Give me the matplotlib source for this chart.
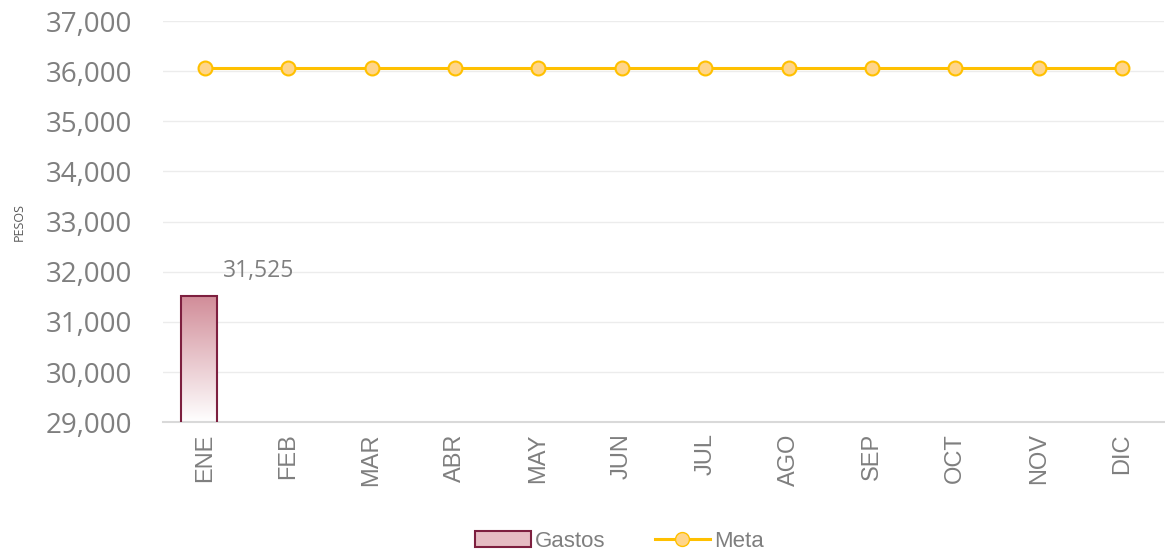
import numpy as np
import matplotlib.pyplot as plt
from matplotlib.patches import Patch
from matplotlib.lines import Line2D
from matplotlib.colors import LinearSegmentedColormap

# datos
meses = ["ENE", "FEB", "MAR", "ABR", "MAY", "JUN", "JUL", "AGO", "SEP", "OCT", "NOV", "DIC"]
gastos = [31525]
meta = [36070] * 12

gris = "#7f7f7f"
fig = plt.figure(figsize=(11.65, 5.54), dpi=100)
ax = fig.add_axes([0.14, 0.238, 0.859, 0.724])

x = np.arange(len(meses))

# barras con degradado
cmap = LinearSegmentedColormap.from_list("grad", ["#ffffff", "#d18c98"])
barras = ax.bar(x[:len(gastos)] - 0.07, gastos, width=0.44, color="none",
                edgecolor="#7d1f3f", linewidth=1.5, zorder=3)
for b in barras:
    x0, y0 = b.get_x(), 29000
    x1, y1 = x0 + b.get_width(), b.get_height()
    grad = np.linspace(0, 1, 256).reshape(-1, 1)
    im = ax.imshow(grad, cmap=cmap, origin="lower", aspect="auto",
                   extent=[x0, x1, y0, y1], zorder=2)
    im.set_clip_path(b)

for xi, v in zip(x, gastos):
    ax.annotate(f"{v:,}", (xi - 0.07, v), xytext=(43, 13), textcoords="offset points",
                ha="center", va="baseline", fontsize=16.5, color=gris, family="Open Sans")

# linea meta
ax.plot(x, meta, color="#ffc000", linewidth=2.2, marker="o", markersize=10,
        markerfacecolor="#ffd58a", markeredgecolor="#ffc000", markeredgewidth=1.5, zorder=4)

ax.set_xlim(-0.5, 11.5)
ax.set_ylim(29000, 37000)
ax.set_yticks(range(29000, 37001, 1000))
ax.set_yticklabels([f"{v:,}" for v in range(29000, 37001, 1000)], fontsize=20,
                   color=gris, family="Open Sans")
ax.set_xticks(x)
ax.set_xticklabels(meses, rotation=90, fontsize=17, color=gris, family="Liberation Sans")
ax.tick_params(axis="x", length=0, pad=8)
ax.tick_params(axis="y", length=0, pad=22)
ax.grid(axis="y", color="#ececec", linewidth=1, zorder=0)
ax.set_axisbelow(True)
for s in ["top", "right", "left"]:
    ax.spines[s].set_visible(False)
ax.spines["bottom"].set_color("#d9d9d9")
ax.spines["bottom"].set_linewidth(1.5)

ax.set_ylabel("PESOS", fontsize=9, color="#595959", family="Open Sans")
ax.yaxis.set_label_coords(-0.137, 0.5)

handles = [Patch(facecolor="#e6bcc3", edgecolor="#7d1f3f", linewidth=1.5),
           Line2D([], [], color="#ffc000", linewidth=2.2, marker="o", markersize=10,
                  markerfacecolor="#ffd58a", markeredgecolor="#ffc000")]
leg = fig.legend(handles, ["Gastos", "Meta"], loc="center", bbox_to_anchor=(0.532, 0.023),
                 ncol=2, frameon=False, prop={"family": "Liberation Sans", "size": 16},
                 handlelength=2.5, handletextpad=0.2, columnspacing=2.2)
for t in leg.get_texts():
    t.set_color(gris)

fig.savefig("out.png")
